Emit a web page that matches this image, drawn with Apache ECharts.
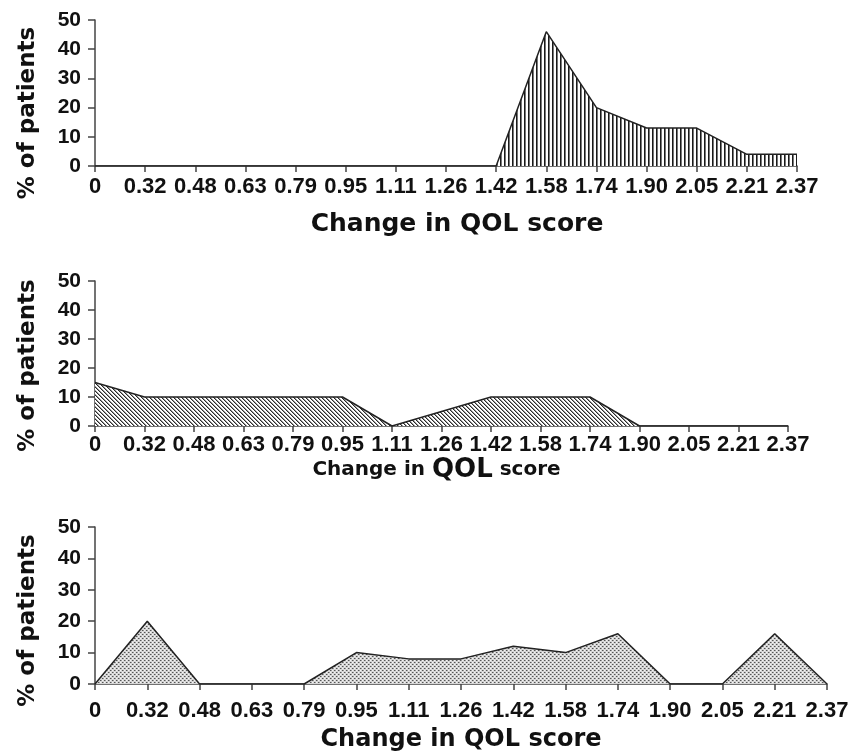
<!DOCTYPE html>
<html>
<head>
<meta charset="utf-8">
<script src="https://cdn.jsdelivr.net/npm/echarts@6/dist/echarts.min.js"></script>
<style>
  html, body { margin: 0; padding: 0; background: #fff; }
  #main { width: 860px; height: 755px; }
</style>
</head>
<body>
<div id="main"></div>
<script>
var categories = ['0', '0.32', '0.48', '0.63', '0.79', '0.95', '1.11', '1.26', '1.42', '1.58', '1.74', '1.90', '2.05', '2.21', '2.37'];
var yTicks = [0, 10, 20, 30, 40, 50];
var panel1 = [0, 0, 0, 0, 0, 0, 0, 0, 0, 46, 20, 13, 13, 4, 4];
var panel2 = [15, 10, 10, 10, 10, 10, 0, 5, 10, 10, 10, 0, 0, 0, 0];
var panel3 = [0, 20, 0, 0, 0, 10, 8, 8, 12, 10, 16, 0, 0, 16, 0];

// little canvases for the fill patterns
function makePattern(w, h, draw) {
    var c = document.createElement('canvas');
    c.width = w; c.height = h;
    var ctx = c.getContext('2d');
    draw(ctx);
    return { image: c, repeat: 'repeat' };
}
var vLines = makePattern(4, 4, function(ctx){
    ctx.fillStyle = '#fff'; ctx.fillRect(0, 0, 4, 4);
    ctx.fillStyle = '#1a1a1a'; ctx.fillRect(0, 0, 1, 4);
    ctx.fillStyle = '#777'; ctx.fillRect(1, 0, 1, 4);
});
var dLines = makePattern(4, 4, function(ctx){
    ctx.fillStyle = '#fff'; ctx.fillRect(0, 0, 4, 4);
    for (var i = 0; i < 4; i++) {
        ctx.fillStyle = '#2a2a2a'; ctx.fillRect(i, i, 1, 1);
        ctx.fillStyle = '#999'; ctx.fillRect((i + 1) % 4, i, 1, 1);
    }
});
var dots = makePattern(4, 4, function(ctx){
    ctx.fillStyle = '#d6d6d6'; ctx.fillRect(0, 0, 4, 4);
    ctx.fillStyle = '#555';
    ctx.fillRect(0, 0, 1, 1);
    ctx.fillRect(2, 2, 1, 1);
    ctx.fillStyle = '#999';
    ctx.fillRect(1, 0, 1, 1);
    ctx.fillRect(3, 2, 1, 1);
    ctx.fillStyle = '#f4f4f4';
    ctx.fillRect(2, 0, 1, 1);
    ctx.fillRect(0, 2, 1, 1);
});

var FONT = 'DejaVu Sans';
var TICKFONT = 'Liberation Sans';
var grids = [
    { left: 95, width: 702, top: 20, height: 146 },
    { left: 95, width: 693, top: 281, height: 145 },
    { left: 95, width: 732, top: 527, height: 157 }
];
var labelMargins = [10, 8, 16];
var nameGaps = [46, 30, 44];
var nameSizes = [25, 0, 24];
var yNamePads = [40, 24, 30];

var xAxes = [], yAxes = [], series = [];
var datas = [panel1, panel2, panel3];
var fills = [vLines, dLines, dots];

for (var i = 0; i < 3; i++) {
    var xa = {
        type: 'category',
        gridIndex: i,
        data: categories,
        boundaryGap: false,
        nameLocation: 'middle',
        nameGap: nameGaps[i],
        axisLine: { lineStyle: { color: '#444', width: 1.5 } },
        axisTick: { alignWithLabel: true, length: 6, lineStyle: { color: '#444', width: 1.5 } },
        axisLabel: { interval: 0, margin: labelMargins[i], color: '#111', fontFamily: TICKFONT, fontWeight: 'bold', fontSize: 22 },
        splitLine: { show: false }
    };
    if (i == 1) {
        // middle panel has the mixed-size axis title
        xa.name = '{s|Change in }{b|QOL}{s| score}';
        xa.nameTextStyle = {
            padding: [0, 10, 0, 0],
            rich: {
                s: { fontFamily: FONT, fontWeight: 'bold', fontSize: 20, color: '#111' },
                b: { fontFamily: FONT, fontWeight: 'bold', fontSize: 26, color: '#111' }
            }
        };
    } else {
        xa.name = 'Change in QOL score';
        xa.nameTextStyle = { fontFamily: FONT, fontWeight: 'bold', fontSize: nameSizes[i], color: '#111',
            padding: i == 0 ? [0, 0, 0, 22] : 0 };
    }
    xAxes.push(xa);

    yAxes.push({
        type: 'value',
        gridIndex: i,
        min: yTicks[0],
        max: yTicks[yTicks.length - 1],
        interval: 10,
        name: '% of patients',
        nameLocation: 'middle',
        nameGap: 55,
        nameTextStyle: { fontFamily: FONT, fontWeight: 'bold', fontSize: 23, color: '#111',
            padding: [0, yNamePads[i], 0, 0] },
        axisLine: { show: true, lineStyle: { color: '#444', width: 1.5 } },
        axisTick: { show: true, length: 7, lineStyle: { color: '#444', width: 1.5 } },
        axisLabel: { margin: 14, color: '#111', fontFamily: TICKFONT, fontWeight: 'bold', fontSize: 21 },
        splitLine: { show: false }
    });

    series.push({
        type: 'line',
        xAxisIndex: i,
        yAxisIndex: i,
        data: datas[i],
        symbol: 'none',
        silent: true,
        lineStyle: { color: '#222', width: 1.5 },
        areaStyle: { color: fills[i], opacity: 1 },
        z: 1
    });
}

var chart = echarts.init(document.getElementById('main'));
chart.setOption({
    animation: false,
    backgroundColor: '#fff',
    grid: grids,
    xAxis: xAxes,
    yAxis: yAxes,
    series: series
});
</script>
</body>
</html>
